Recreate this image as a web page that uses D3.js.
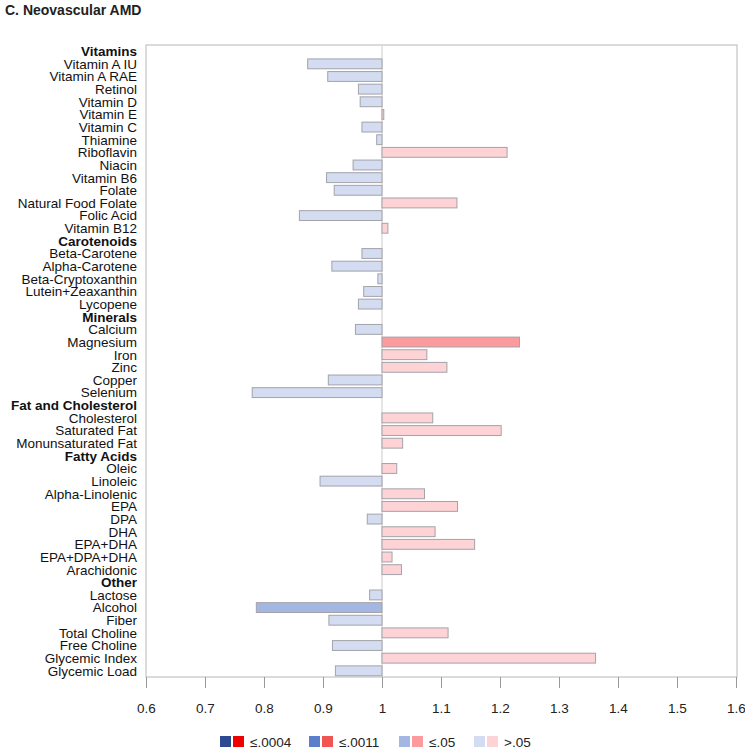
<!DOCTYPE html>
<html>
<head>
<meta charset="utf-8">
<script src="https://cdn.jsdelivr.net/npm/d3@7"></script>
<style>
  body { margin: 0; background: #fff; }
  svg { font-family: "Liberation Sans", Arial, sans-serif; }
</style>
</head>
<body>
<div id="chart"></div>
<script>
// ---- Data ----
const title = "C. Neovascular AMD";
const rowLabels = [
  "Vitamins", "Vitamin A IU", "Vitamin A RAE", "Retinol", "Vitamin D", "Vitamin E", "Vitamin C",
  "Thiamine", "Riboflavin", "Niacin", "Vitamin B6", "Folate", "Natural Food Folate", "Folic Acid",
  "Vitamin B12",
  "Carotenoids", "Beta-Carotene", "Alpha-Carotene", "Beta-Cryptoxanthin", "Lutein+Zeaxanthin", "Lycopene",
  "Minerals", "Calcium", "Magnesium", "Iron", "Zinc", "Copper", "Selenium",
  "Fat and Cholesterol", "Cholesterol", "Saturated Fat", "Monunsaturated Fat",
  "Fatty Acids", "Oleic", "Linoleic", "Alpha-Linolenic", "EPA", "DPA", "DHA", "EPA+DHA", "EPA+DPA+DHA", "Arachidonic",
  "Other", "Lactose", "Alcohol", "Fiber", "Total Choline", "Free Choline", "Glycemic Index", "Glycemic Load"
];
const headerRows = ["Vitamins", "Carotenoids", "Minerals", "Fat and Cholesterol", "Fatty Acids", "Other"];
// odds ratios (null for header rows)
const oddsRatios = [
  null, 0.874, 0.908, 0.960, 0.963, 1.003, 0.966,
  0.991, 1.212, 0.951, 0.906, 0.919, 1.127, 0.860,
  1.010,
  null, 0.966, 0.915, 0.993, 0.969, 0.960,
  null, 0.955, 1.233, 1.076, 1.110, 0.909, 0.780,
  null, 1.086, 1.202, 1.035,
  null, 1.025, 0.895, 1.072, 1.128, 0.975, 1.090, 1.157, 1.017, 1.033,
  null, 0.979, 0.787, 0.910, 1.112, 0.916, 1.362, 0.921
];
// p-value category per row: 0 = ≤.0004, 1 = ≤.0011, 2 = ≤.05, 3 = >.05
const pLevels = [
  null, 3, 3, 3, 3, 3, 3,
  3, 3, 3, 3, 3, 3, 3,
  3,
  null, 3, 3, 3, 3, 3,
  null, 3, 2, 3, 3, 3, 3,
  null, 3, 3, 3,
  null, 3, 3, 3, 3, 3, 3, 3, 3, 3,
  null, 3, 2, 3, 3, 3, 3, 3
];
const xTicks = [0.6, 0.7, 0.8, 0.9, 1, 1.1, 1.2, 1.3, 1.4, 1.5, 1.6];
const legendLabels = ["≤.0004", "≤.0011", "≤.05", ">.05"];
const blueShades = ["#2c4a8f", "#5b7fcb", "#a4b7e3", "#d3dcf0"];
const redShades = ["#ee0000", "#f25353", "#fc9b9d", "#fdd3d6"];

// ---- Layout ----
const W = 745, H = 750;
const plot = { left: 146, right: 737, top: 45, bottom: 677 };

const svg = d3.select("#chart").append("svg").attr("width", W).attr("height", H);

svg.append("text").attr("x", 5).attr("y", 15)
  .attr("font-size", 14).attr("font-weight", "bold").attr("fill", "#222")
  .text(title);

const x = d3.scaleLinear().domain([0.6, 1.6]).range([plot.left, plot.right - 1]);
const y = d3.scaleBand().domain(rowLabels).range([plot.top, plot.bottom]).paddingInner(0.22).paddingOuter(0.1);

// frame
svg.append("rect")
  .attr("x", plot.left).attr("y", plot.top)
  .attr("width", plot.right - plot.left).attr("height", plot.bottom - plot.top)
  .attr("fill", "none").attr("stroke", "#c4c4c4").attr("stroke-width", 1.2);

// reference line at 1
svg.append("line")
  .attr("x1", x(1)).attr("x2", x(1)).attr("y1", plot.top).attr("y2", plot.bottom)
  .attr("stroke", "#d4d4d4").attr("stroke-width", 1.2);

// bars
const rows = rowLabels.map((l, i) => ({ label: l, v: oddsRatios[i], p: pLevels[i] }));
svg.append("g").selectAll("rect")
  .data(rows.filter(d => d.v !== null))
  .join("rect")
  .attr("x", d => Math.min(x(d.v), x(1)))
  .attr("y", d => y(d.label))
  .attr("width", d => Math.max(1.5, Math.abs(x(d.v) - x(1))))
  .attr("height", y.bandwidth())
  .attr("fill", d => d.v < 1 ? blueShades[d.p] : redShades[d.p])
  .attr("stroke", "#a3a3ab").attr("stroke-width", 1);

// row labels
svg.append("g").selectAll("text")
  .data(rowLabels)
  .join("text")
  .attr("x", 137)
  .attr("y", d => y(d) + y.bandwidth() / 2)
  .attr("dy", "0.36em")
  .attr("text-anchor", "end")
  .attr("font-size", 13.5)
  .attr("font-weight", d => headerRows.includes(d) ? "bold" : "normal")
  .attr("fill", "#111")
  .text(d => d);

// x axis
const xAxis = d3.axisBottom(x).tickValues(xTicks).tickSize(11).tickPadding(15)
  .tickFormat(d => d3.format("")(d));
const ax = svg.append("g").attr("transform", `translate(0,${plot.bottom})`).call(xAxis);
ax.select(".domain").remove();
ax.selectAll(".tick line").attr("stroke", "#999");
ax.selectAll(".tick text").attr("font-size", 13.5).attr("fill", "#222")
  .attr("font-family", "'Liberation Sans', Arial, sans-serif");

// legend
const legendX = [220, 309, 399, 474];
const lg = svg.append("g");
legendLabels.forEach((lab, i) => {
  const gx = legendX[i];
  lg.append("rect").attr("x", gx).attr("y", 736).attr("width", 11).attr("height", 11).attr("fill", blueShades[i]);
  lg.append("rect").attr("x", gx + 13).attr("y", 736).attr("width", 11).attr("height", 11).attr("fill", redShades[i]);
  lg.append("text").attr("x", gx + 30).attr("y", 746.5).attr("font-size", 13.5).attr("fill", "#222").text(lab);
});
</script>
</body>
</html>
